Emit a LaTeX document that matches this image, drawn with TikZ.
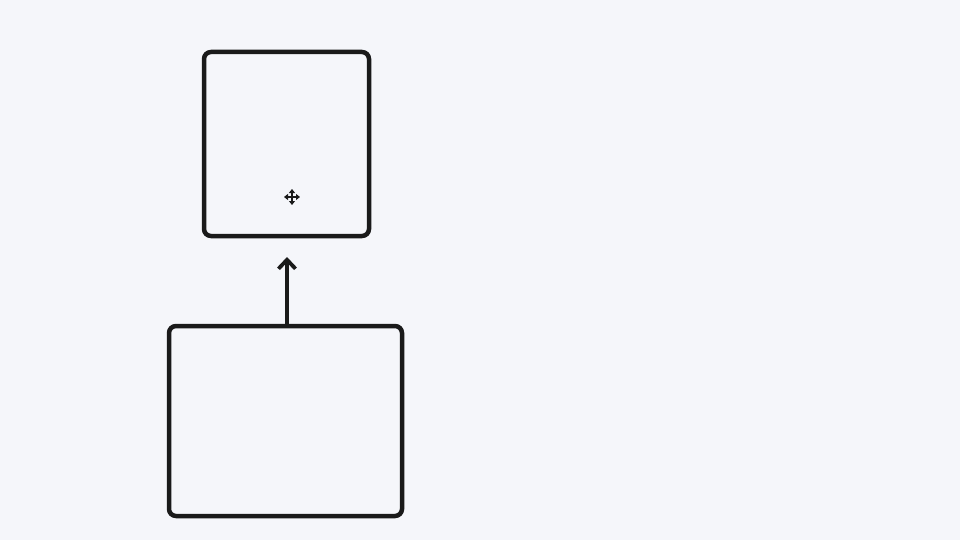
\documentclass[tikz,border=0pt]{standalone}
\usetikzlibrary{arrows.meta}
\definecolor{bg}{HTML}{F5F6FA}
\definecolor{ink}{HTML}{1A1A1A}
\begin{document}
\begin{tikzpicture}[x=1pt,y=-1pt,
  box/.style={draw=ink,line width=4.5pt,rounded corners=7pt,inner sep=0pt},
  conn/.style={draw=ink,line width=3.8pt,-{Straight Barb[length=9pt,width=17pt,line width=3.8pt]}},
  curarrow/.style={draw=ink,line width=1.4pt,-{Triangle[length=4pt,width=6pt]}}]
\fill[bg] (0,0) rectangle (960,540);
\useasboundingbox (0,0) rectangle (960,540);
\node[box,minimum width=165pt,minimum height=184pt] (top) at (286.5,144) {};
\node[box,minimum width=233pt,minimum height=190pt] (bot) at (285.5,421) {};
\coordinate (tip) at (287,257);
\draw[conn] (bot.north -| tip) -- (tip);
% move cursor
\coordinate (cur) at (292,197);
\begin{scope}[shift={(cur)}]
\draw[curarrow] (0,0) -- (-8,0);
\draw[curarrow] (0,0) -- (8,0);
\draw[curarrow] (0,0) -- (0,-8);
\draw[curarrow] (0,0) -- (0,8);
\end{scope}
\end{tikzpicture}
\end{document}
